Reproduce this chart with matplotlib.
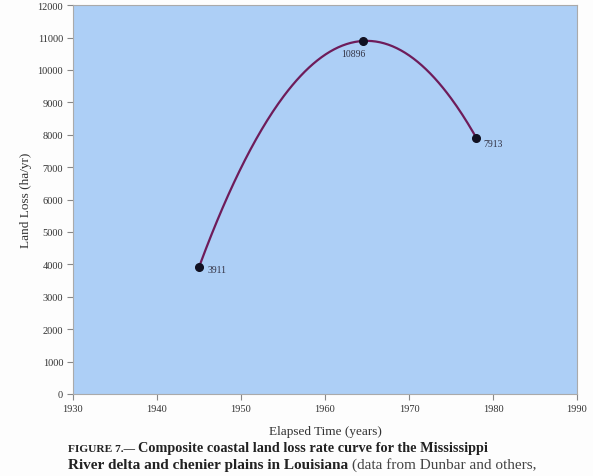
import numpy as np
import matplotlib.pyplot as plt

plt.rcParams['font.family'] = ['Liberation Serif', 'DejaVu Serif']

# land loss rate observations
years = [1945, 1964.5, 1978]
loss = [3911, 10896, 7913]
labels = ['3911', '10896', '7913']
label_offsets = [(6, -1.5), (-7, -9), (5, -4.5)]
label_ha = ['left', 'center', 'left']

xticks = [1930, 1940, 1950, 1960, 1970, 1980, 1990]
yticks = list(range(0, 12001, 1000))

# smooth curve through the three points
coef = np.polyfit(years, loss, 2)
xs = np.linspace(years[0], years[-1], 200)
ys = np.polyval(coef, xs)

fig = plt.figure(figsize=(5.93, 4.77), dpi=100)
fig.patch.set_facecolor('#fdfdfd')
ax = fig.add_axes([0.123, 0.172, 0.850, 0.815])
ax.set_facecolor('#adcff6')

ax.plot(xs, ys, color='#6e1c5a', lw=1.6, zorder=2)
ax.plot(years, loss, 'o', color='#111122', ms=5.5, zorder=3)
for x, y, s, off, ha in zip(years, loss, labels, label_offsets, label_ha):
    ax.annotate(s, (x, y), xytext=off, textcoords='offset points',
                fontsize=7, color='#333344', va='center', ha=ha)

ax.set_xlim(1930, 1990)
ax.set_ylim(0, 12000)
ax.set_xticks(xticks)
ax.set_yticks(yticks)
ax.tick_params(labelsize=7.5, colors='#888888', labelcolor='#333333',
               length=4, width=0.8, direction='out', pad=3)
for sp in ax.spines.values():
    sp.set_color('#aaaaaa')
    sp.set_linewidth(0.8)

ax.set_xlabel('Elapsed Time (years)', fontsize=9.5, color='#333333', labelpad=9)
ax.set_ylabel('Land Loss (ha/yr)', fontsize=9.5, color='#333333', labelpad=4)


def chain(x, y, parts):
    # draw text pieces one after another on the same baseline
    for s, size, weight, color in parts:
        t = fig.text(x, y, s, fontsize=size, fontweight=weight, color=color)
        fig.canvas.draw()
        x = t.get_window_extent().x1 / fig.bbox.width


# figure caption
chain(0.115, 0.053, [
    ('FIGURE 7.\u2014 ', 8.2, 'bold', '#222222'),
    ('Composite coastal land loss rate curve for the Mississippi', 10.3, 'bold', '#222222'),
])
chain(0.115, 0.017, [
    ('River delta and chenier plains in Louisiana ', 11, 'bold', '#222222'),
    ('(data from Dunbar and others,', 11, 'normal', '#444444'),
])

fig.savefig('out.png', dpi=100, facecolor=fig.get_facecolor())
